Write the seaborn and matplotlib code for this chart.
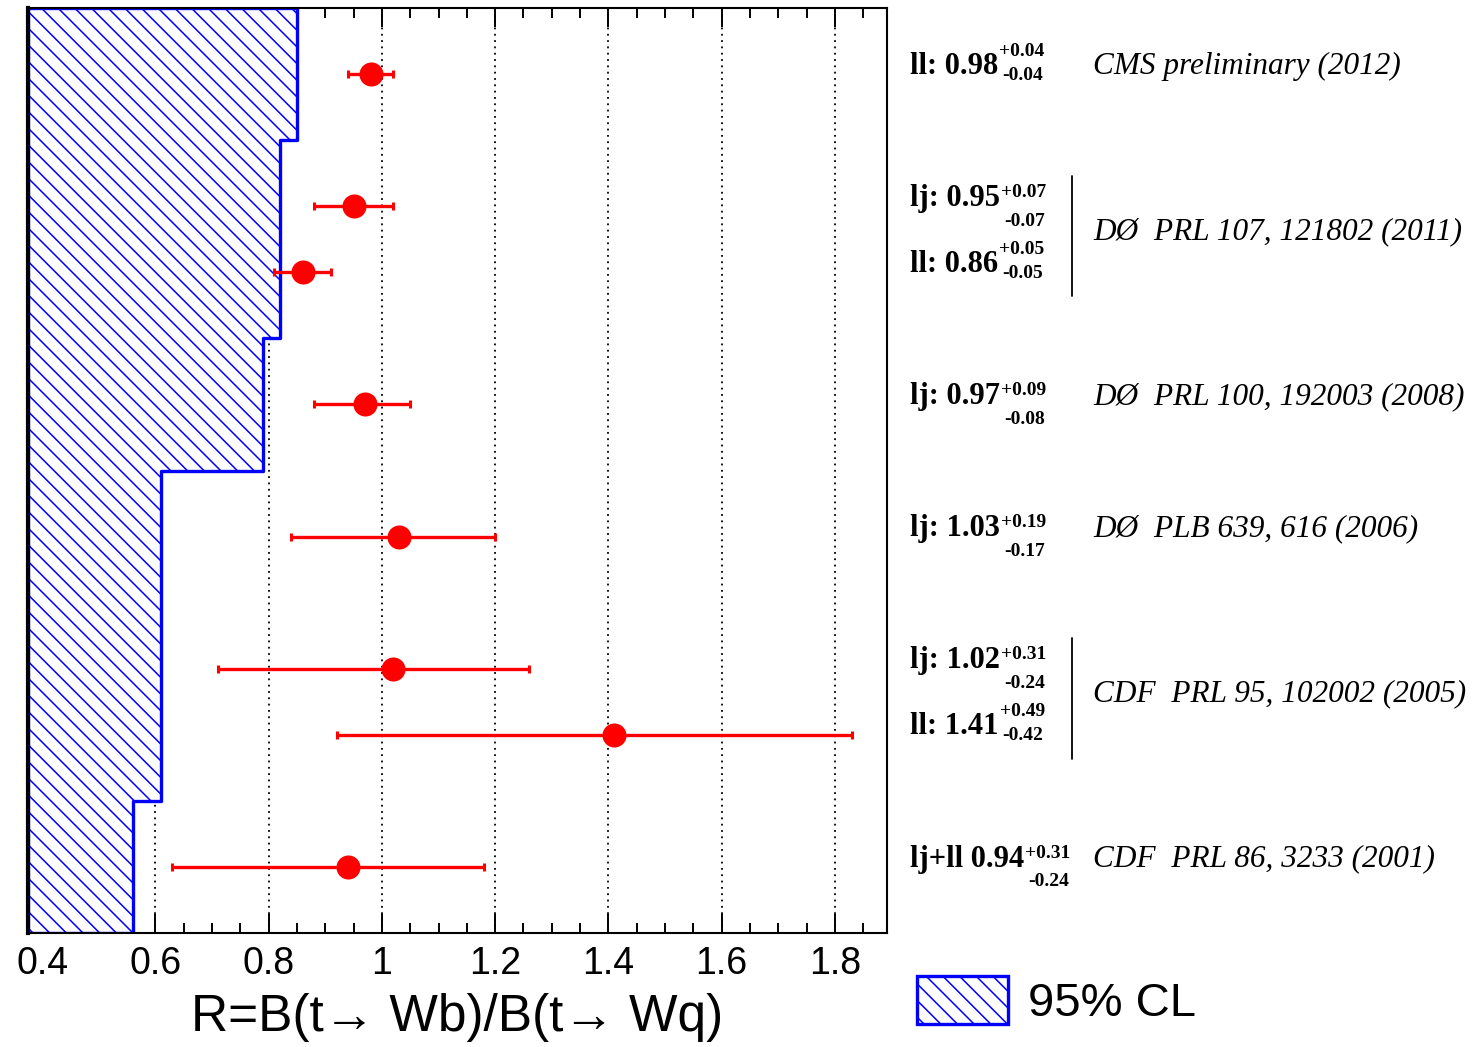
import matplotlib
matplotlib.use("Agg")
import numpy as np
import pandas as pd
import seaborn as sns
import matplotlib.pyplot as plt
import matplotlib.transforms as mtransforms
from matplotlib.lines import Line2D
from matplotlib.patches import Patch

# ---------------- data ----------------
values = [0.98, 0.95, 0.86, 0.97, 1.03, 1.02, 1.41, 0.94]
err_plus = [0.04, 0.07, 0.05, 0.09, 0.19, 0.31, 0.49, 0.31]
err_minus = [0.04, 0.07, 0.05, 0.08, 0.17, 0.24, 0.42, 0.24]
rows = [13, 11, 10, 8, 6, 4, 3, 1]
channels = ["ll:", "lj:", "ll:", "lj:", "lj:", "lj:", "ll:", "lj+ll"]
citations = ["CMS preliminary (2012)", "DØ  PRL 107, 121802 (2011)",
             "DØ  PRL 100, 192003 (2008)", "DØ  PLB 639, 616 (2006)",
             "CDF  PRL 95, 102002 (2005)", "CDF  PRL 86, 3233 (2001)"]
citation_groups = [[0], [1, 2], [3], [4], [5, 6], [7]]
band_y = [0, 2, 7, 9, 12, 14]
band_x = [0.56, 0.61, 0.79, 0.82, 0.85]
x_ticks = [0.4, 0.6, 0.8, 1.0, 1.2, 1.4, 1.6, 1.8]
x_tick_labels = ["0.4", "0.6", "0.8", "1", "1.2", "1.4", "1.6", "1.8"]

df = pd.DataFrame({"R": values, "row": rows, "lo": err_plus, "hi": err_minus})

sns.set_theme(style="white")
plt.rcParams["font.family"] = ["Liberation Sans", "DejaVu Sans"]
plt.rcParams["hatch.linewidth"] = 1.1
plt.rcParams["text.color"] = "black"
plt.rcParams["axes.labelcolor"] = "black"
plt.rcParams["xtick.color"] = "black"
plt.rcParams["xtick.labelcolor"] = "black"

W, H = 1475, 1047
fig = plt.figure(figsize=(W / 100, H / 100), dpi=100)
ax = fig.add_axes([28 / W, 1 - 933 / H, (887 - 28) / W, (933 - 8) / H])

xmin, xmax = 0.375, 1.892
ax.set_xlim(xmin, xmax)
ax.set_ylim(0, 14)

# 95% CL band (step)
ys = np.array(band_y, dtype=float)
xs = np.array(band_x + [band_x[-1]], dtype=float)
ax.fill_betweenx(ys, xmin, xs, step="post", facecolor="white",
                 edgecolor="#0000ff", hatch="\\\\", linewidth=2.4, zorder=1)

# grid
for xt in x_ticks:
    ax.axvline(xt, color="black", linestyle=(0, (1, 2.5)), linewidth=1.3, zorder=0.5)

# error bars + points
ax.errorbar(df["R"], df["row"], xerr=[df["lo"], df["hi"]], fmt="none",
            ecolor="#ff0000", elinewidth=2.4, capsize=2.8, capthick=2.2, zorder=3)
sns.scatterplot(data=df, x="R", y="row", ax=ax, color="#ff0000", s=300,
                edgecolor="#ff0000", linewidth=0, zorder=4, legend=False)

ax.set_xlim(xmin, xmax)
ax.set_ylim(0, 14)
ax.set_yticks([])
ax.set_ylabel("")
ax.set_xticks(x_ticks)
ax.set_xticklabels(x_tick_labels)
ax.set_xticks(np.arange(0.4, 1.90, 0.05), minor=True)
ax.tick_params(axis="x", which="major", direction="in", length=14, width=1.4,
               top=True, bottom=True, labelsize=27, pad=9, colors="black")
ax.tick_params(axis="x", which="minor", direction="in", length=7, width=1.4,
               top=True, bottom=True, colors="black")
for lab in ax.get_xticklabels():
    lab.set_fontfamily("Liberation Sans")
    lab.set_color("black")
ax.set_xlabel("R=B(t\u2192 Wb)/B(t\u2192 Wq)", fontsize=37, color="black",
              family=["Liberation Sans", "DejaVu Sans"], labelpad=8)
for sp in ["top", "bottom", "right"]:
    ax.spines[sp].set_color("black")
    ax.spines[sp].set_linewidth(1.5)
ax.spines["left"].set_color("black")
ax.spines["left"].set_linewidth(3)

# ---------------- right-hand annotations ----------------
blend = mtransforms.blended_transform_factory(fig.transFigure, ax.transData)
fig.canvas.draw()
renderer = fig.canvas.get_renderer()

x_lab = 910 / W
x_cit = 1093 / W
for v, r, ch, ep, em in zip(values, rows, channels, err_plus, err_minus):
    y = r + 0.12
    t = fig.text(x_lab, y, f"{ch} {v:.2f}", transform=blend, fontsize=22,
                 family="Liberation Serif", weight="bold", va="center", ha="left",
                 color="black")
    bb = t.get_window_extent(renderer)
    x1 = (bb.x1 + 1) / W
    if "j" in ch:
        up, dn = 6, -23
    else:
        up, dn = 15, -9
    tu = mtransforms.offset_copy(blend, fig=fig, x=0, y=up, units="dots")
    td = mtransforms.offset_copy(blend, fig=fig, x=0, y=dn, units="dots")
    fig.text(x1, y, f"+{ep:.2f}", transform=tu, fontsize=14,
             family="Liberation Serif", weight="bold", va="center", ha="left",
             color="black")
    fig.text(x1 + 3 / W, y, f"-{em:.2f}", transform=td, fontsize=14,
             family="Liberation Serif", weight="bold", va="center", ha="left",
             color="black")

for cit, grp in zip(citations, citation_groups):
    grow = [rows[i] for i in grp]
    yc = float(np.mean(grow)) + 0.12
    fig.text(x_cit, yc, cit, transform=blend, fontsize=22.5,
             family="Liberation Serif", style="italic", va="center", ha="left",
             color="black")
    if len(grp) > 1:
        fig.add_artist(Line2D([1072 / W, 1072 / W], [max(grow) + 0.46, min(grow) - 0.36],
                              transform=blend, color="black", linewidth=1.3))

# legend
handle = Patch(facecolor="white", edgecolor="#0000ff", hatch="\\\\", linewidth=2.4)
leg = fig.legend([handle], ["95% CL"], loc="center left",
                 bbox_to_anchor=(917 / W, 1 - 1001 / H), frameon=False,
                 handlelength=1.93, handleheight=1.2, handletextpad=0.43,
                 borderpad=0, borderaxespad=0,
                 prop={"family": "Liberation Sans", "size": 34})
for txt in leg.get_texts():
    txt.set_color("black")

fig.savefig("out.png", dpi=100, facecolor="white")
